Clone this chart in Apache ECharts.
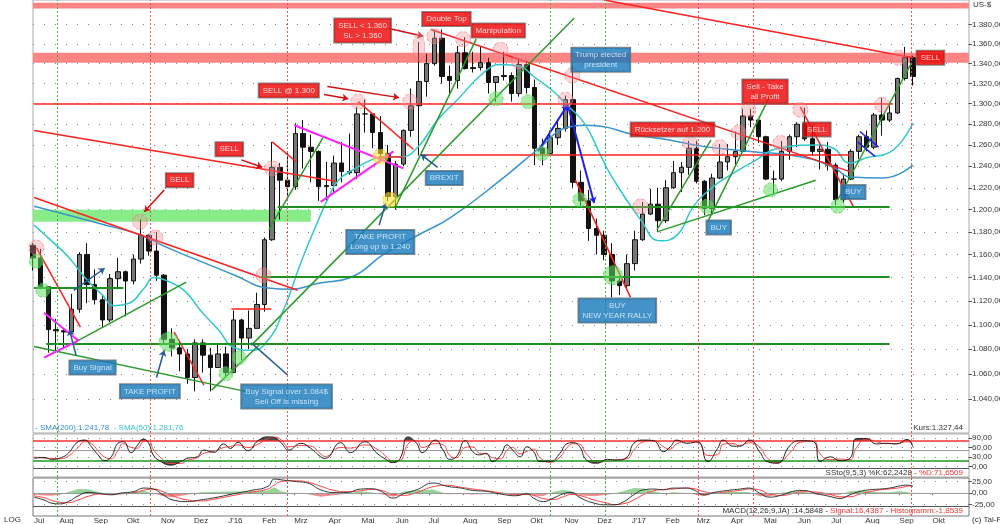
<!DOCTYPE html>
<html>
<head>
<meta charset="utf-8">
<title>Gold US-$</title>
<script src="https://cdn.jsdelivr.net/npm/echarts@6/dist/echarts.min.js"></script>
<style>
html,body{margin:0;padding:0;background:#fff;}
#main{width:1000px;height:524px;}
</style>
</head>
<body>
<div id="main"></div>
<script>
// weekly candles, first week plotted on Wednesday 2015-07-08, [open, high, low, close]
const firstWeek = '2015-07-08';
const weekly = [
  [1168,1170,1146,1157],[1157,1165,1130,1132],[1132,1132,1077,1096],[1096,1105,1077,1095],
  [1095,1097,1080,1094],[1094,1126,1093,1113],[1113,1162,1110,1160],[1160,1170,1118,1134],
  [1134,1147,1117,1121],[1121,1125,1098,1104],[1104,1143,1102,1139],[1139,1157,1130,1145],
  [1145,1146,1107,1137],[1137,1160,1134,1156],[1156,1191,1152,1177],[1177,1178,1159,1163],
  [1163,1180,1137,1142],[1142,1143,1084,1088],[1088,1097,1074,1081],[1081,1087,1062,1076],
  [1076,1080,1052,1057],[1057,1088,1046,1085],[1085,1088,1061,1075],[1075,1081,1046,1065],
  [1065,1085,1065,1076],[1076,1082,1058,1061],
  [1061,1112,1061,1104],[1104,1105,1071,1089],[1089,1112,1080,1097],[1097,1127,1097,1117],
  [1117,1175,1111,1173],[1173,1263,1172,1239],[1239,1243,1191,1227],[1227,1253,1208,1221],
  [1221,1281,1218,1271],[1271,1284,1238,1258],[1258,1270,1225,1254],[1254,1255,1208,1221],
  [1221,1244,1207,1222],[1222,1250,1215,1243],[1243,1263,1225,1235],[1235,1271,1232,1234],
  [1234,1297,1228,1290],[1290,1304,1272,1290],[1290,1290,1257,1272],[1272,1288,1244,1252],
  [1252,1260,1208,1212],[1212,1245,1200,1242],[1242,1275,1240,1274],[1274,1315,1268,1298],
  [1298,1362,1250,1322],[1322,1350,1307,1340],[1340,1375,1338,1366],[1366,1375,1320,1327],
  [1327,1338,1310,1323],[1323,1358,1315,1351],[1351,1367,1334,1335],[1335,1352,1331,1336],
  [1336,1358,1333,1341],[1341,1346,1310,1321],[1321,1327,1302,1327],[1327,1352,1323,1328],
  [1328,1331,1302,1310],[1310,1344,1307,1339],[1339,1343,1310,1316],[1316,1324,1241,1257],
  [1257,1266,1241,1252],[1252,1274,1251,1267],[1267,1285,1260,1276],[1276,1308,1273,1304],
  [1304,1338,1220,1225],[1225,1236,1203,1208],[1208,1218,1172,1183],[1183,1192,1160,1177],
  [1177,1181,1155,1160],[1160,1170,1123,1137],[1137,1140,1125,1133],[1133,1160,1130,1152],
  [1152,1181,1146,1173],[1173,1207,1172,1196],[1196,1219,1195,1205],[1205,1220,1180,1190],
  [1190,1227,1188,1220],[1220,1245,1219,1234],[1234,1244,1216,1239],[1239,1264,1232,1257],
  [1257,1264,1224,1226],[1226,1227,1195,1201],[1201,1233,1196,1229],[1229,1261,1228,1244],
  [1244,1261,1236,1249],[1249,1273,1241,1254],[1254,1295,1253,1288],[1288,1295,1277,1284],
  [1284,1286,1262,1268],[1268,1269,1227,1228],[1228,1236,1214,1228],[1228,1264,1226,1254],
  [1254,1270,1246,1268],[1268,1282,1258,1280],[1280,1296,1264,1266],[1266,1279,1250,1254],
  [1254,1260,1237,1256],[1256,1263,1236,1241],[1241,1243,1204,1209],[1209,1233,1206,1228],
  [1228,1256,1227,1254],[1254,1270,1247,1268],[1268,1274,1254,1258],[1258,1291,1256,1289],
  [1289,1306,1269,1284],[1284,1300,1282,1291],[1291,1326,1290,1325],[1325,1357,1323,1346],
  [1346,1348,1318,1327]
];

// moving averages
const sma200Dates = ['2015-07-09','2015-09-08','2015-10-14','2015-11-07','2015-12-07','2016-01-07','2016-02-06','2016-02-27','2016-03-23','2016-04-21','2016-05-21','2016-06-21','2016-07-21','2016-09-04','2016-10-08','2016-11-04','2016-11-19','2016-12-04','2017-01-03','2017-02-03','2017-03-05','2017-04-19','2017-06-03','2017-07-03','2017-07-18','2017-08-17','2017-09-13'];
const sma200 = [1203,1187,1177,1166,1154,1142,1131,1130,1135,1140,1160,1177,1193,1227,1256,1277,1279,1278,1270,1265,1259,1254,1249,1239,1230,1229,1241];
const sma50Dates = ['2015-07-09','2015-07-27','2015-08-09','2015-08-24','2015-09-08','2015-09-20','2015-10-03','2015-10-17','2015-10-26','2015-11-07','2015-11-22','2015-12-07','2015-12-23','2016-01-07','2016-01-22','2016-02-06','2016-02-21','2016-03-07','2016-03-23','2016-04-01','2016-04-10','2016-04-24','2016-05-10','2016-05-21','2016-06-06','2016-06-21','2016-07-09','2016-07-27','2016-08-20','2016-09-04','2016-09-22','2016-10-04','2016-10-20','2016-11-04','2016-11-19','2016-12-04','2016-12-13','2017-01-09','2017-01-27','2017-02-12','2017-02-26','2017-03-16','2017-04-01','2017-04-19','2017-05-19','2017-06-18','2017-07-03','2017-07-18','2017-08-02','2017-08-23','2017-09-13'];
const sma50 = [1186,1170,1158,1140,1126,1116,1118,1131,1140,1137,1129,1112,1096,1081,1079,1087,1114,1153,1191,1211,1227,1237,1246,1249,1249,1258,1284,1304,1331,1339,1337,1327,1314,1298,1281,1250,1232,1191,1172,1178,1203,1221,1232,1243,1258,1260,1257,1243,1248,1253,1281];

// slow stochastic
const stochDates = ['2015-07-09','2015-07-18','2015-07-25','2015-08-03','2015-08-09','2015-08-18','2015-08-24','2015-08-30','2015-09-05','2015-09-11','2015-09-17','2015-09-23','2015-09-28','2015-10-05','2015-10-11','2015-10-16','2015-10-21','2015-10-25','2015-11-01','2015-11-10','2015-11-19','2015-11-25','2015-12-04','2015-12-10','2015-12-19','2015-12-28','2016-01-03','2016-01-10','2016-01-19','2016-01-28','2016-02-06','2016-02-12','2016-02-18','2016-02-25','2016-03-07','2016-03-16','2016-03-25','2016-03-29','2016-04-12','2016-04-21','2016-05-04','2016-05-15','2016-05-24','2016-05-29','2016-06-05','2016-06-12','2016-06-20','2016-06-25','2016-07-07','2016-07-14','2016-07-20','2016-07-26','2016-08-03','2016-08-10','2016-08-16','2016-08-22','2016-08-28','2016-09-04','2016-09-10','2016-09-15','2016-09-22','2016-09-28','2016-10-04','2016-10-10','2016-10-19','2016-10-28','2016-11-03','2016-11-09','2016-11-15','2016-11-21','2016-12-01','2016-12-10','2016-12-19','2016-12-28','2017-01-03','2017-01-12','2017-01-21','2017-01-30','2017-02-05','2017-02-11','2017-02-20','2017-03-02','2017-03-11','2017-03-20','2017-03-25','2017-04-03','2017-04-09','2017-04-18','2017-04-27','2017-05-04','2017-05-13','2017-05-25','2017-06-03','2017-06-15','2017-06-21','2017-06-30','2017-07-09','2017-07-18','2017-07-24','2017-08-02','2017-08-11','2017-08-20','2017-08-29','2017-09-08','2017-09-13'];
const stochK = [26,29,23,29,42,78,83,62,37,19,31,73,78,44,68,86,73,37,16,5,16,26,31,52,45,71,
  57,76,50,81,93,91,75,52,73,57,31,26,75,44,78,42,21,13,26,93,73,44,83,52,23,31,81,47,37,42,16,35,68,52,31,62,47,16,16,42,71,75,62,21,11,23,21,31,
  73,83,81,47,62,83,73,78,16,57,83,64,64,83,47,16,11,68,81,78,16,31,19,26,88,88,71,73,71,85,62];
const stochD = [30,27,26,25,33,60,78,72,50,30,25,50,72,60,58,78,80,55,28,10,10,20,28,42,48,60,
  63,68,60,70,88,92,84,62,66,64,40,32,60,58,68,55,30,18,20,70,82,60,72,68,35,28,60,62,42,40,28,25,52,60,40,48,55,28,14,30,58,72,70,40,15,17,22,25,
  52,78,82,62,55,72,78,76,35,38,70,72,66,75,62,28,12,45,76,80,40,22,24,22,60,86,78,72,72,78,72];

// MACD
const macdDates = ['2015-07-09','2015-07-18','2015-07-25','2015-08-01','2015-08-09','2015-08-18','2015-08-27','2015-09-08','2015-09-17','2015-09-26','2015-10-08','2015-10-16','2015-10-25','2015-11-03','2015-11-12','2015-11-25','2015-12-07','2015-12-22','2016-01-06','2016-01-22','2016-02-06','2016-02-12','2016-02-18','2016-03-01','2016-03-13','2016-03-25','2016-04-06','2016-04-18','2016-04-30','2016-05-10','2016-05-19','2016-05-30','2016-06-08','2016-06-20','2016-07-05','2016-07-18','2016-07-30','2016-08-10','2016-08-23','2016-09-03','2016-09-18','2016-09-28','2016-10-04','2016-10-13','2016-10-22','2016-10-31','2016-11-07','2016-11-16','2016-11-28','2016-12-10','2016-12-16','2016-12-25','2017-01-03','2017-01-12','2017-01-21','2017-01-30','2017-02-08','2017-02-20','2017-02-26','2017-03-08','2017-03-17','2017-03-29','2017-04-09','2017-04-18','2017-04-27','2017-05-06','2017-05-18','2017-05-27','2017-06-05','2017-06-18','2017-06-30','2017-07-09','2017-07-18','2017-07-27','2017-08-05','2017-08-14','2017-08-23','2017-09-02','2017-09-08','2017-09-13'];
const macdLine = [-9,-15,-22,-23.6,-18.5,-6,1.5,-1.4,-3.7,0,3.7,11,8.8,-3.7,-15,-18.5,-15,-9,
  -1.4,5.9,14.7,30.7,29,25.6,22,7.3,1.5,1.5,8.8,9.5,3.7,-11,-1.4,7.3,22,14.7,11,5.9,3.7,-1.4,-5.8,-1.4,-11,-18.5,-11,-1.4,1.5,-11,-22,-25.6,-25.6,-18.5,
  -3.7,7.3,8.8,7.3,11,11,7.3,-3.7,1.5,5.9,8.8,11,0,-8.8,-3.7,3.7,5.9,-1.4,-7.3,-11.7,-3.7,3.7,7.3,8.8,11,16,17.5,14.6];
const macdSignal = [-6,-10,-16,-20,-21,-15,-7,-2,-2.5,-1.5,1,6,9,3,-6,-15,-17,-12,
  -5,2,9,18,25,27,24,15,6,3,5,8,6,-3,-5,1,14,17,13,9,5,1,-3,-3,-5,-12,-14,-8,-3,-6,-15,-22,-25,-23,
  -15,-3,5,8,9,11,10,3,0,3,6,9,7,-2,-5,-1,3,2,-3,-8,-8,-2,3,7,9,12,15,16.4];
const macdHist = [-3,-5,-6,-3.6,2.5,9,8.5,0.6,-1.2,1.5,2.7,5,-0.2,-6.7,-9,-3.5,2,3,
  3.6,3.9,5.7,12.7,4,-1.4,-2,-7.7,-4.5,-1.5,3.8,1.5,-2.3,-8,3.6,6.3,8,-2.3,-2,-3.1,-1.3,-2.4,-2.8,1.6,-6,-6.5,3,6.6,4.5,-5,-7,-3.6,-0.6,4.5,
  11.3,10.3,3.8,-0.7,2,0,-2.7,-6.7,1.5,2.9,2.8,2,-7,-6.8,1.3,4.7,2.9,-3.4,-4.3,-3.7,4.3,5.7,4.3,1.8,2,4,2.5,-1.8];

// axis ticks
const priceTicks = [1040,1060,1080,1100,1120,1140,1160,1180,1200,1220,1240,1260,1280,1300,1320,1340,1360,1380];
const stochTicks = [0,30,60,90];
const macdTicks = [-25,0,25];
const monthTicks = ['2015-07-09','2015-08-01','2015-09-01','2015-10-01','2015-11-01','2015-12-01','2016-01-01','2016-02-01','2016-03-01','2016-04-01','2016-05-01','2016-06-01','2016-07-01','2016-08-01','2016-09-01','2016-10-01','2016-11-01','2016-12-01','2017-01-01','2017-02-01','2017-03-01','2017-04-01','2017-05-01','2017-06-01','2017-07-01','2017-08-01','2017-09-01','2017-10-01'];
const monthNames = ['J','Feb','Mrz','Apr','Mai','Jun','Jul','Aug','Sep','Okt','Nov','Dez'];

// drawing annotations: [date1, price1, date2, price2]
const redBands = [['2015-07-08',1397,'2017-11-03',1403],['2015-07-08',1341,'2017-11-03',1351]];
const greenBands = [['2015-07-08',1189,'2016-03-16',1200]];
const greenVLines = ['2015-07-30','2016-10-19','2016-12-08'];
const redVLines = ['2015-10-22','2016-02-24','2017-03-02','2017-04-21','2017-09-12'];
const redLines = [
  ['2015-07-09',1274,'2016-04-07',1226],['2015-07-09',1211,'2016-03-04',1129],
  ['2015-07-11',1166,'2015-08-20',1098],['2015-11-13',1094,'2015-12-10',1051],
  ['2016-01-04',1113,'2016-02-09',1113],['2016-02-10',1263,'2016-03-03',1244],
  ['2016-04-28',1302,'2016-06-17',1256],['2016-05-17',1249,'2016-06-08',1249],
  ['2016-06-24',1251,'2017-07-18',1251],['2016-07-03',1375,'2017-07-18',1235],
  ['2016-12-07',1406,'2017-09-13',1346],['2016-11-11',1227,'2016-12-31',1123],
  ['2017-06-03',1297,'2017-07-21',1203],['2015-07-09',1300,'2017-08-26',1300]
];
const greenLevels = [
  ['2015-07-20',1084,'2017-08-23',1084],['2015-07-09',1131,'2015-09-28',1131],
  ['2016-01-31',1141,'2017-08-23',1141],['2016-02-15',1203,'2017-08-23',1203]
];
const greenLines = [
  ['2015-08-14',1085,'2015-11-24',1136],['2015-07-09',1082,'2016-01-22',1045],
  ['2015-12-17',1047,'2016-01-31',1085],['2016-01-22',1083,'2016-11-10',1387],
  ['2016-06-01',1203,'2016-08-13',1365],['2016-02-07',1182,'2016-03-27',1267],
  ['2017-01-24',1180,'2017-06-17',1227],['2017-01-24',1182,'2017-03-14',1265],
  ['2017-03-11',1189,'2017-05-07',1309],['2017-07-07',1209,'2017-09-12',1341]
];
const magentaLines = [
  ['2015-07-18',1110,'2015-08-18',1087],['2015-07-18',1073,'2015-08-18',1087],
  ['2016-03-01',1279,'2016-06-08',1238],['2016-03-25',1207,'2016-05-30',1254]
];
const blueArrows = [['2016-10-08',1254,'2016-11-04',1299],['2016-11-04',1299,'2016-11-28',1206]];
const blueLines = [['2017-07-27',1273,'2017-08-13',1258],['2017-07-25',1263,'2017-08-10',1249]];
const steelArrows = [
  ['2015-08-16',1075,'2015-08-10',1096],['2015-10-28',1057,'2015-11-04',1079],
  ['2016-07-09',1239,'2016-06-24',1251],['2016-05-17',1186,'2016-05-23',1206],
  ['2015-08-14',1129,'2015-09-11',1148]
];
const steelLines = [['2016-01-22',1085,'2016-02-24',1059]];
const redArrows = [
  ['2015-11-04',1218,'2015-10-17',1198],['2016-01-13',1246,'2016-02-01',1239],
  ['2016-03-31',1317,'2016-06-04',1306],['2016-03-28',1309,'2016-04-19',1305],
  ['2016-05-26',1376,'2016-06-26',1368]
];
const pinkCircles = [
  ['2015-07-11',1166],['2015-10-13',1189],['2015-10-27',1175],['2016-02-10',1238],['2016-02-02',1142],
  ['2016-04-28',1302],['2016-06-14',1302],['2016-07-06',1368],['2016-08-01',1365],['2016-09-04',1354],
  ['2016-09-21',1342],['2016-11-08',1328],['2016-11-02',1304],['2017-01-09',1203],['2017-02-23',1262],
  ['2017-03-22',1258],['2017-04-08',1272],['2017-04-17',1294],['2017-06-03',1294],['2017-05-16',1262],
  ['2017-08-16',1299],['2017-08-31',1346]
];
const pinkTall = [['2016-06-22',1357]];
const greenCircles = [
  ['2015-07-11',1154],['2015-07-17',1129],['2015-12-30',1060],['2016-01-11',1073],['2016-08-31',1305],
  ['2016-09-29',1302],['2016-10-12',1252],['2016-11-15',1209],['2017-03-10',1203],['2017-05-07',1218],
  ['2017-07-07',1203]
];
const greenBigCircles = [['2015-11-08',1086],['2016-12-15',1142]];
const yellowCircles = [['2016-05-18',1249],['2016-05-27',1209]];
const redBoxes = [
  ['2015-11-18',1227,'SELL'],['2016-01-02',1256,'SELL'],['2016-02-25',1313,'SELL @ 1.300'],
  ['2016-05-02',1374,'SELL < 1.360\nSL > 1.360'],['2016-07-17',1386,'Double Top'],
  ['2016-09-02',1374,'Manipulation'],['2017-02-07',1275,'Rücksetzer auf 1.200'],
  ['2017-05-02',1312,'Sell - Take\nall Profit'],['2017-06-18',1275,'SELL'],['2017-09-29',1346,'SELL']
];
const blueBoxes = [
  ['2016-12-04',1344,'Trump elected\npresident'],['2015-08-31',1065,'Buy Signal'],
  ['2015-10-22',1046,'TAKE PROFIT'],['2016-02-23',1042,'Buy Signal over 1.084$\nSell Off is missing'],
  ['2016-05-18',1171,'TAKE PROFIT\nLong up to 1.240'],['2016-07-15',1229,'BREXIT'],
  ['2016-12-19',1112,'BUY\nNEW YEAR RALLY'],['2017-03-21',1184,'BUY'],['2017-07-21',1216,'BUY']
];

const FONT = '"Liberation Sans", Arial, sans-serif';
const DAY = 86400000;
const ts = s => { const p = s.split('-').map(Number); return Date.UTC(p[0], p[1] - 1, p[2]); };
const xMin = ts('2015-07-08'), xMax = ts('2017-11-03');

function deFmt(v) {
  const s = Math.abs(v).toFixed(2).split('.');
  return (v < 0 ? '-' : '') + s[0].replace(/\B(?=(\d{3})+(?!\d))/g, '.') + ',' + s[1];
}
const pairs = (dates, vals) => dates.map((d, i) => [ts(d), vals[i]]);

function bands(list, color) {
  return {
    type: 'custom', xAxisIndex: 0, yAxisIndex: 0, z: 1, silent: true, clip: true,
    data: list.map(r => [ts(r[0]), r[1], ts(r[2]), r[3]]),
    encode: { x: [0, 2], y: [1, 3] },
    renderItem: (params, api) => {
      const a = api.coord([api.value(0), api.value(1)]);
      const b = api.coord([api.value(2), api.value(3)]);
      return {
        type: 'rect',
        shape: { x: Math.min(a[0], b[0]), y: Math.min(a[1], b[1]), width: Math.abs(b[0] - a[0]), height: Math.abs(b[1] - a[1]) },
        style: { fill: color }
      };
    }
  };
}
function segs(list, color, width, arrow) {
  return {
    type: 'lines', coordinateSystem: 'cartesian2d', xAxisIndex: 0, yAxisIndex: 0,
    polyline: false, silent: true, z: 4, animation: false,
    symbol: arrow ? ['none', 'arrow'] : ['none', 'none'], symbolSize: 6,
    lineStyle: { color: color, width: width, opacity: 1, curveness: 0 },
    data: list.map(r => ({ coords: [[ts(r[0]), r[1]], [ts(r[2]), r[3]]] }))
  };
}
function circles(list, color, border, size) {
  return {
    type: 'scatter', xAxisIndex: 0, yAxisIndex: 0, silent: true, z: 5, symbolSize: size,
    itemStyle: { color: color, borderColor: border, borderWidth: 1, borderType: 'dashed' },
    data: list.map(r => [ts(r[0]), r[1]])
  };
}
function boxes(list, bg, fg) {
  return {
    type: 'scatter', xAxisIndex: 0, yAxisIndex: 0, silent: true, z: 6, symbolSize: 1,
    itemStyle: { color: 'rgba(0,0,0,0)' },
    data: list.map(r => ({ name: r[2], value: [ts(r[0]), r[1]] })),
    label: {
      show: true, position: 'inside', formatter: '{b}', backgroundColor: bg, color: fg,
      borderColor: '#6a6a6a', borderWidth: 1, padding: [2, 4], fontSize: 8, lineHeight: 10,
      fontFamily: FONT, align: 'center'
    }
  };
}
function vMarks() {
  return greenVLines.map(d => ({ xAxis: ts(d), lineStyle: { color: '#3cb83c', type: [2, 2], width: 1 } }))
    .concat(redVLines.map(d => ({ xAxis: ts(d), lineStyle: { color: '#f05050', type: [2, 2], width: 1 } })));
}
function makeX(gi, show) {
  return {
    type: 'value', gridIndex: gi, min: xMin, max: xMax, scale: true,
    axisLine: { show: false }, splitLine: { show: false },
    axisTick: { show: show, customValues: monthTicks.map(ts), length: 2, lineStyle: { color: '#666' } },
    axisLabel: {
      show: show, customValues: monthTicks.map(ts), align: 'left', margin: 1,
      fontSize: 8, color: '#333', fontFamily: FONT,
      formatter: v => {
        const d = new Date(v), m = d.getUTCMonth();
        return m === 0 ? "J'" + String(d.getUTCFullYear()).slice(2) : monthNames[m];
      }
    }
  };
}
function makeY(gi, type, min, max, ticks) {
  return {
    type: type, gridIndex: gi, position: 'right', min: min, max: max,
    axisLine: { show: false },
    axisTick: { show: true, customValues: ticks, length: 3, lineStyle: { color: '#555' } },
    axisLabel: { customValues: ticks, formatter: deFmt, fontSize: 8, color: '#333', margin: 3, fontFamily: FONT },
    splitLine: { show: true, lineStyle: { type: [1, 10], color: '#888' } }
  };
}

const series = [];
series.push(bands(redBands, '#ff8585'));
series.push(bands(greenBands, '#88ec88'));
// vertical marker lines
series.push({
  type: 'line', xAxisIndex: 0, yAxisIndex: 0, data: [[xMin, 1200]], symbol: 'none', silent: true, z: 1,
  lineStyle: { opacity: 0 },
  markLine: { symbol: ['none', 'none'], silent: true, label: { show: false }, data: vMarks() }
});
series.push({
  type: 'candlestick', xAxisIndex: 0, yAxisIndex: 0, barWidth: 5, z: 2,
  itemStyle: { color: '#777', color0: '#111', borderColor: '#111', borderColor0: '#111', borderWidth: 1 },
  data: weekly.map((r, i) => [ts(firstWeek) + i * 7 * DAY, r[0], r[3], r[2], r[1]])
});
series.push({ type: 'line', xAxisIndex: 0, yAxisIndex: 0, smooth: true, symbol: 'none', z: 3,
  lineStyle: { color: '#3894d0', width: 1.5 }, data: pairs(sma200Dates, sma200) });
series.push({ type: 'line', xAxisIndex: 0, yAxisIndex: 0, smooth: true, symbol: 'none', z: 3,
  lineStyle: { color: '#30c8cc', width: 1.5 }, data: pairs(sma50Dates, sma50) });
series.push(segs(redLines, '#ff2020', 1.5, false));
series.push(segs(greenLevels, '#1f8f1f', 2, false));
series.push(segs(greenLines, '#2a9a2a', 1.5, false));
series.push(segs(magentaLines, '#ff20ff', 2, false));
series.push(segs(blueArrows, '#2020ee', 2, true));
series.push(segs(blueLines, '#2020ee', 1.5, false));
series.push(segs(steelArrows, '#1f5a9a', 1.5, true));
series.push(segs(steelLines, '#1f5a9a', 1.5, false));
series.push(segs(redArrows, '#d01010', 1.5, true));
series.push(circles(pinkCircles, 'rgba(245,140,150,0.45)', 'rgba(235,110,120,0.7)', 15));
series.push(circles(pinkTall, 'rgba(245,140,150,0.45)', 'rgba(235,110,120,0.7)', [12, 28]));
series.push(circles(greenCircles, 'rgba(100,225,100,0.7)', 'rgba(80,200,80,0.8)', 14));
series.push(circles(greenBigCircles, 'rgba(100,225,100,0.7)', 'rgba(80,200,80,0.8)', 19));
series.push(circles(yellowCircles, 'rgba(255,225,60,0.75)', 'rgba(240,200,40,0.8)', 15));
series.push(boxes(redBoxes, '#ee0000', '#ffffff'));
series.push(boxes(blueBoxes, '#1478bc', '#e6f4ff'));

// stochastic panel
series.push({ type: 'line', xAxisIndex: 1, yAxisIndex: 1, smooth: true, symbol: 'none', silent: true, z: 2,
  lineStyle: { width: 0 }, areaStyle: { origin: 80, opacity: 1 }, data: pairs(stochDates, stochK) });
const stochFillIdx = series.length - 1;
series.push({ type: 'line', xAxisIndex: 1, yAxisIndex: 1, smooth: true, symbol: 'none', z: 4,
  lineStyle: { color: '#ff4040', width: 1 }, data: pairs(stochDates, stochD) });
series.push({ type: 'line', xAxisIndex: 1, yAxisIndex: 1, smooth: true, symbol: 'none', z: 5,
  lineStyle: { color: '#222', width: 1 }, data: pairs(stochDates, stochK),
  markLine: { symbol: ['none', 'none'], silent: true, label: { show: false },
    data: [
      { yAxis: 80, lineStyle: { color: '#ff3030', width: 1.5, type: 'solid' } },
      { yAxis: 50, lineStyle: { color: '#999', width: 1, type: 'solid' } },
      { yAxis: 20, lineStyle: { color: '#1f9a1f', width: 1.5, type: 'solid' } },
      { yAxis: -5, lineStyle: { color: '#555', width: 1, type: 'solid' } }
    ].concat(vMarks()) } });

// MACD panel
series.push({ type: 'line', xAxisIndex: 2, yAxisIndex: 2, symbol: 'none', silent: true, z: 2,
  lineStyle: { width: 0 }, areaStyle: { opacity: 0.8 }, data: pairs(macdDates, macdHist) });
const histIdx = series.length - 1;
series.push({ type: 'line', xAxisIndex: 2, yAxisIndex: 2, smooth: true, symbol: 'none', z: 4,
  lineStyle: { color: '#ff4040', width: 1 }, data: pairs(macdDates, macdSignal) });
series.push({ type: 'line', xAxisIndex: 2, yAxisIndex: 2, smooth: true, symbol: 'none', z: 5,
  lineStyle: { color: '#333', width: 1 }, data: pairs(macdDates, macdLine),
  markLine: { symbol: ['none', 'none'], silent: true, label: { show: false },
    data: [
      { yAxis: 0, lineStyle: { color: '#999', width: 1, type: 'solid' } },
      { yAxis: -28, lineStyle: { color: '#555', width: 1, type: 'solid' } }
    ].concat(vMarks()) } });

const grid = { left: 33, right: 31, show: true, borderColor: '#aaa', borderWidth: 1, outerBoundsMode: 'none' };
const option = {
  animation: false,
  backgroundColor: '#fff',
  grid: [
    Object.assign({ top: 0, height: 433 }, grid),
    Object.assign({ top: 434, height: 43 }, grid),
    Object.assign({ top: 478, height: 38 }, grid, { borderColor: '#777' })
  ],
  xAxis: [makeX(0, false), makeX(1, false), makeX(2, true)],
  yAxis: [
    makeY(0, 'log', 1013.6, 1406, priceTicks),
    makeY(1, 'value', -32, 102, stochTicks),
    makeY(2, 'value', -50, 33, macdTicks)
  ],
  visualMap: [
    { type: 'piecewise', show: false, seriesIndex: stochFillIdx, dimension: 1,
      pieces: [{ gt: 80, lte: 110, color: '#4a4a4a' }, { gte: 20, lte: 80, color: 'rgba(0,0,0,0)' }, { gte: -40, lt: 20, color: '#4a4a4a' }] },
    { type: 'piecewise', show: false, seriesIndex: histIdx, dimension: 1,
      pieces: [{ gte: 0, lte: 60, color: '#7cc87c' }, { gte: -60, lt: 0, color: '#f07070' }] }
  ],
  graphic: [
    { type: 'text', left: 35, top: 424, style: { text: '{a|- SMA(200):1.241,78}  {b|- SMA(50):1.281,76}', font: '8px ' + FONT,
      rich: { a: { fill: '#3a8fd4', fontSize: 8, fontFamily: FONT }, b: { fill: '#38c4cc', fontSize: 8, fontFamily: FONT } } } },
    { type: 'text', right: 37, top: 424, style: { text: 'Kurs:1.327,44', fill: '#333', font: '8px ' + FONT } },
    { type: 'text', right: 37, top: 469, style: { text: '{a|SSto(9,5,3) %K:62,2428 - }{b|%D:71,6509}', font: '8px ' + FONT,
      rich: { a: { fill: '#333', fontSize: 8, fontFamily: FONT }, b: { fill: '#ff3030', fontSize: 8, fontFamily: FONT } } } },
    { type: 'text', right: 37, top: 507, style: { text: '{a|MACD(12,26,9,JA) :14,5848 - }{b|Signal:16,4387 - Histogramm:-1,8539}', font: '8px ' + FONT,
      rich: { a: { fill: '#333', fontSize: 8, fontFamily: FONT }, b: { fill: '#ff3030', fontSize: 8, fontFamily: FONT } } } },
    { type: 'text', left: 973, top: 1, style: { text: 'US-$', fill: '#333', font: '8px ' + FONT } },
    { type: 'text', left: 4, top: 516, style: { text: 'LOG', fill: '#333', font: '8px ' + FONT } },
    { type: 'text', left: 972, top: 516, style: { text: '(c) Tai-Pan', fill: '#333', font: '8px ' + FONT } }
  ],
  series: series
};

const chart = echarts.init(document.getElementById('main'));
chart.setOption(option);
</script>
</body>
</html>
